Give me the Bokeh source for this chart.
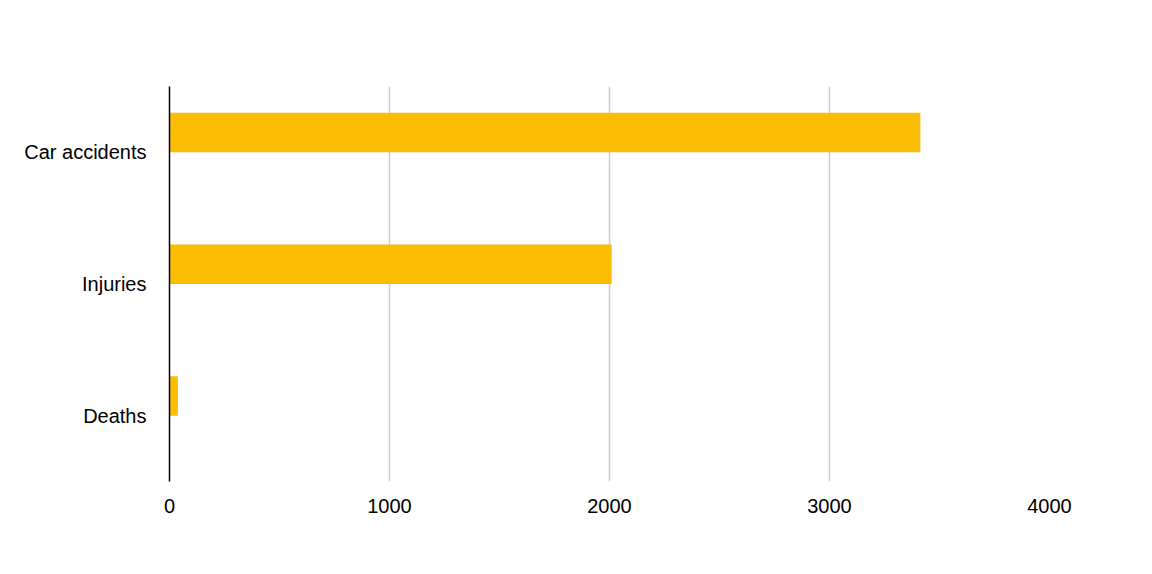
from bokeh.plotting import figure
from bokeh.models import FactorRange, Range1d, ColumnDataSource, FixedTicker
from bokeh.transform import dodge
from bokeh.embed import file_html
from bokeh.resources import INLINE

categories = ["Car accidents", "Injuries", "Deaths"]
values = [3413, 2010, 38]
x_ticks = [0, 1000, 2000, 3000, 4000]

FONT = "Liberation Sans"

src = ColumnDataSource(data=dict(cat=categories, val=values))

p = figure(width=1136, height=558, output_backend="svg", toolbar_location=None,
           y_range=FactorRange(factors=list(reversed(categories)), range_padding=0),
           x_range=Range1d(0, 4000),
           min_border_left=169, min_border_right=87, min_border_top=86, min_border_bottom=77)

p.hbar(y=dodge("cat", 0.15, range=p.y_range), right="val", left=0, height=0.3,
       source=src, color="#FBBC04", line_color=None)

p.outline_line_color = None
p.background_fill_color = "white"
p.border_fill_color = "white"

p.ygrid.grid_line_color = None
p.xgrid.grid_line_color = "#cccccc"
p.xgrid.grid_line_width = 1.5
p.xaxis.ticker = FixedTicker(ticks=x_ticks)

p.xaxis.axis_line_color = None
p.xaxis.major_tick_line_color = None
p.xaxis.minor_tick_line_color = None
p.xaxis.major_label_standoff = 11
p.xaxis.major_label_text_font = FONT
p.xaxis.major_label_text_font_size = "20px"
p.xaxis.major_label_text_color = "#000000"

p.yaxis.axis_line_color = "#000000"
p.yaxis.axis_line_width = 1.5
p.yaxis.major_tick_line_color = None
p.yaxis.minor_tick_line_color = None
p.yaxis.major_label_standoff = 17
p.yaxis.major_label_text_font = FONT
p.yaxis.major_label_text_font_size = "20px"
p.yaxis.major_label_text_color = "#000000"

open("out.html", "w").write(file_html(p, INLINE))
